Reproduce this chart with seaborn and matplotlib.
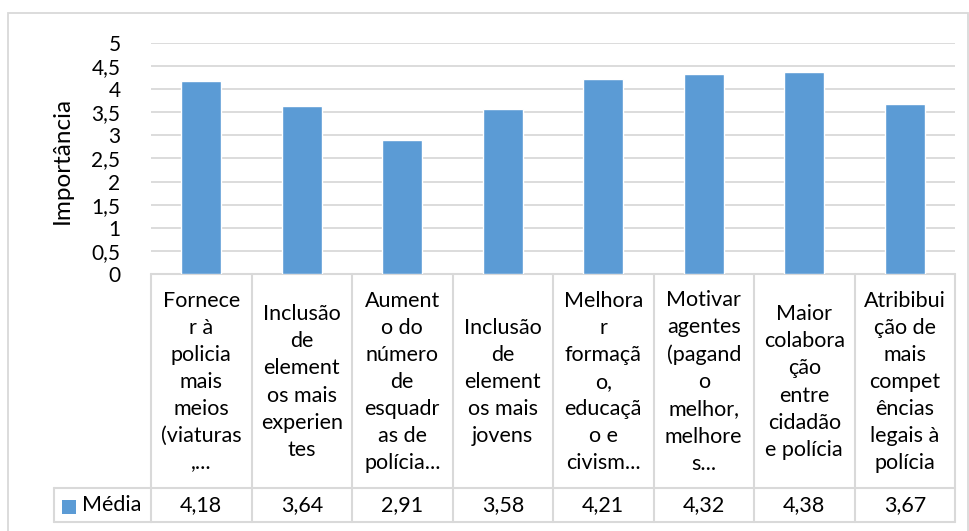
import matplotlib
matplotlib.use("Agg")
import matplotlib.pyplot as plt
import matplotlib.transforms as mtransforms
import seaborn as sns
import pandas as pd

categories = [
    "Fornece\nr à\npolicia\nmais\nmeios\n(viaturas\n,...",
    "Inclusão\nde\nelement\nos mais\nexperien\ntes",
    "Aument\no do\nnúmero\nde\nesquadr\nas de\npolícia...",
    "Inclusão\nde\nelement\nos mais\njovens",
    "Melhora\nr\nformaçã\no,\neducaçã\no e\ncivism...",
    "Motivar\nagentes\n(pagand\no\nmelhor,\nmelhore\ns...",
    "Maior\ncolabora\nção\nentre\ncidadão\ne polícia",
    "Atribibui\nção de\nmais\ncompet\nências\nlegais à\npolícia",
]
values = [4.18, 3.64, 2.91, 3.58, 4.21, 4.32, 4.38, 3.67]
value_labels = ["4,18", "3,64", "2,91", "3,58", "4,21", "4,32", "4,38", "3,67"]
series_name = "Média"
y_ticks = [0, 0.5, 1, 1.5, 2, 2.5, 3, 3.5, 4, 4.5, 5]
y_tick_labels = ["0", "0,5", "1", "1,5", "2", "2,5", "3", "3,5", "4", "4,5", "5"]
y_label = "Importância"

W, H = 969, 531
BAR = "#5B9BD5"
GRID = "#D9D9D9"
FONT = ["Lato", "DejaVu Sans"]
FS = 15.5

sns.set_theme(style="white")
plt.rcParams["font.family"] = FONT

fig = plt.figure(figsize=(W / 100, H / 100), dpi=100)
fx = lambda px: px / W
fy = lambda py: 1 - py / H

ax_l, ax_r, ax_t, ax_b = 151, 955, 43, 274
ax = fig.add_axes([fx(ax_l), fy(ax_b), fx(ax_r) - fx(ax_l), fy(ax_t) - fy(ax_b)])

df = pd.DataFrame({"cat": list(range(len(values))), "val": values})
sns.barplot(data=df, x="cat", y="val", color=BAR, saturation=1, width=0.4, ax=ax, zorder=3)

ax.set_ylim(0, 5)
ax.set_xlim(-0.5, len(values) - 0.5)
ax.set_yticks(y_ticks)
ax.set_yticklabels(y_tick_labels, fontsize=15, color="#000000")
ax.set_xticks([])
ax.set_xlabel("")
ax.set_ylabel("")
for y in y_ticks[1:]:
    ax.axhline(y, color=GRID, lw=1.3, zorder=1)
for s in ax.spines.values():
    s.set_visible(False)
ax.tick_params(axis="y", length=0, pad=22)

fig.text(fx(62), fy(160), y_label, rotation=90, ha="center", va="center",
         fontsize=17.5, color="#000000")

# data table below axes
tr = mtransforms.blended_transform_factory(ax.transData, fig.transFigure)
row_top, row_mid, row_bot = 274, 488, 522
n = len(values)
ax.plot([-0.5, n - 0.5], [fy(row_top)] * 2, transform=tr, color=GRID, lw=1.5, clip_on=False)
ax.plot([-0.5, n - 0.5], [fy(row_bot)] * 2, transform=tr, color=GRID, lw=1.5, clip_on=False)
fig.add_artist(plt.Line2D([fx(54), fx(ax_r)], [fy(row_mid)] * 2, transform=fig.transFigure, color=GRID, lw=1.5))
fig.add_artist(plt.Line2D([fx(54), fx(ax_l)], [fy(row_bot)] * 2, transform=fig.transFigure, color=GRID, lw=1.5))
fig.add_artist(plt.Line2D([fx(54)] * 2, [fy(row_mid), fy(row_bot)], transform=fig.transFigure, color=GRID, lw=1.5))
for k in range(n + 1):
    ax.plot([k - 0.5] * 2, [fy(row_top), fy(row_bot)], transform=tr, color=GRID, lw=1.5, clip_on=False)

for i, (c, v) in enumerate(zip(categories, value_labels)):
    ax.text(i, fy((row_top + row_mid) / 2 + 1), c, transform=tr, ha="center", va="center",
            multialignment="center", fontsize=FS, linespacing=1.44, color="#000000")
    ax.text(i, fy((row_mid + row_bot) / 2), v, transform=tr, ha="center", va="center",
            fontsize=FS, color="#000000")

# legend key in table
fig.add_artist(plt.Rectangle((fx(62), fy(514)), fx(14), fy(500) - fy(514), transform=fig.transFigure,
                             facecolor=BAR, edgecolor="none"))
fig.text(fx(82), fy((row_mid + row_bot) / 2), series_name, ha="left", va="center", fontsize=FS, color="#000000")

# outer chart border
fig.add_artist(plt.Rectangle((fx(8), fy(533)), fx(968) - fx(8), fy(13) - fy(533), transform=fig.transFigure,
                             facecolor="none", edgecolor=GRID, lw=1.3))

fig.savefig("out.png", dpi=100)
